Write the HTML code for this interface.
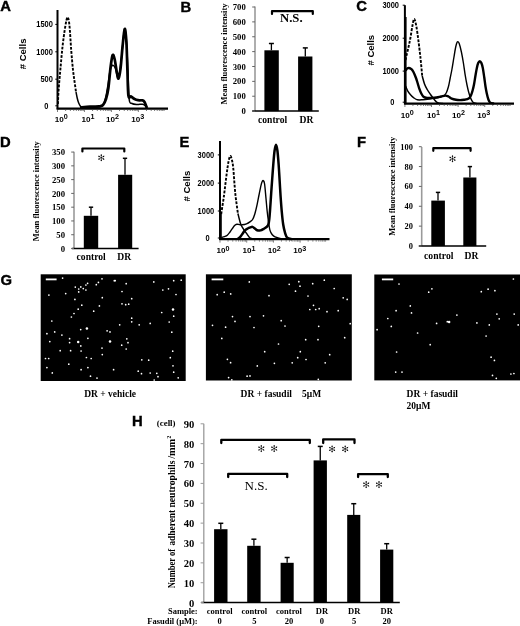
<!DOCTYPE html>
<html><head><meta charset="utf-8"><title>Figure</title>
<style>
html,body{margin:0;padding:0;background:#fff;}
body{width:520px;height:626px;overflow:hidden;font-family:"Liberation Sans", sans-serif;}
svg{display:block;will-change:transform;}
</style></head><body>
<svg width="520" height="626" viewBox="0 0 520 626">
<rect width="520" height="626" fill="#fff"/>
<text x="0.3" y="11.2" font-family='"Liberation Sans", sans-serif' font-size="14.8" font-weight="bold" text-anchor="start" stroke="#000" stroke-width="0.4">A</text>
<text x="180.5" y="11.8" font-family='"Liberation Sans", sans-serif' font-size="14.8" font-weight="bold" text-anchor="start" stroke="#000" stroke-width="0.4">B</text>
<text x="356.3" y="10.8" font-family='"Liberation Sans", sans-serif' font-size="14.8" font-weight="bold" text-anchor="start" stroke="#000" stroke-width="0.4">C</text>
<text x="-0.1" y="147.4" font-family='"Liberation Sans", sans-serif' font-size="14.8" font-weight="bold" text-anchor="start" stroke="#000" stroke-width="0.4">D</text>
<text x="179.4" y="147.4" font-family='"Liberation Sans", sans-serif' font-size="14.8" font-weight="bold" text-anchor="start" stroke="#000" stroke-width="0.4">E</text>
<text x="357.1" y="147" font-family='"Liberation Sans", sans-serif' font-size="14.8" font-weight="bold" text-anchor="start" stroke="#000" stroke-width="0.4">F</text>
<text x="0.4" y="284.8" font-family='"Liberation Sans", sans-serif' font-size="14.8" font-weight="bold" text-anchor="start" stroke="#000" stroke-width="0.4">G</text>
<text x="132" y="425.9" font-family='"Liberation Sans", sans-serif' font-size="14.8" font-weight="bold" text-anchor="start" stroke="#000" stroke-width="0.4">H</text>
<line x1="57.5" y1="10" x2="57.5" y2="109.4" stroke="#000" stroke-width="2.0" stroke-linecap="butt"/>
<line x1="56.7" y1="108.6" x2="168" y2="108.6" stroke="#000" stroke-width="2.2" stroke-linecap="butt"/>
<line x1="55.3" y1="24.4" x2="57.5" y2="24.4" stroke="#000" stroke-width="1" stroke-linecap="butt"/>
<text x="52.9" y="27.11" font-family='"Liberation Sans", sans-serif' font-size="8.2" font-weight="bold" text-anchor="end" textLength="16.6" lengthAdjust="spacingAndGlyphs">1500</text>
<line x1="55.3" y1="51.8" x2="57.5" y2="51.8" stroke="#000" stroke-width="1" stroke-linecap="butt"/>
<text x="52.9" y="54.51" font-family='"Liberation Sans", sans-serif' font-size="8.2" font-weight="bold" text-anchor="end" textLength="16.6" lengthAdjust="spacingAndGlyphs">1000</text>
<line x1="55.3" y1="79.2" x2="57.5" y2="79.2" stroke="#000" stroke-width="1" stroke-linecap="butt"/>
<text x="52.9" y="81.91" font-family='"Liberation Sans", sans-serif' font-size="8.2" font-weight="bold" text-anchor="end" textLength="12.45" lengthAdjust="spacingAndGlyphs">500</text>
<line x1="55.3" y1="105.8" x2="57.5" y2="105.8" stroke="#000" stroke-width="1" stroke-linecap="butt"/>
<text x="48.4" y="108.51" font-family='"Liberation Sans", sans-serif' font-size="8.2" font-weight="bold" text-anchor="end" textLength="4.15" lengthAdjust="spacingAndGlyphs">0</text>
<text x="54.8" y="121.6" font-family='"Liberation Sans", sans-serif' font-size="8.1" font-weight="bold">10<tspan font-size="7.2" dy="-2.8">0</tspan></text>
<text x="81.5" y="121.6" font-family='"Liberation Sans", sans-serif' font-size="8.1" font-weight="bold">10<tspan font-size="7.2" dy="-2.8">1</tspan></text>
<text x="106" y="121.6" font-family='"Liberation Sans", sans-serif' font-size="8.1" font-weight="bold">10<tspan font-size="7.2" dy="-2.8">2</tspan></text>
<text x="131.2" y="121.6" font-family='"Liberation Sans", sans-serif' font-size="8.1" font-weight="bold">10<tspan font-size="7.2" dy="-2.8">3</tspan></text>
<path d="M57.5 109.6v2.4M65.61 109.6v1.4M70.36 109.6v1.4M73.73 109.6v1.4M76.34 109.6v1.4M78.47 109.6v1.4M80.28 109.6v1.4M81.84 109.6v1.4M83.22 109.6v1.4M84.45 109.6v2.4M92.56 109.6v1.4M97.31 109.6v1.4M100.68 109.6v1.4M103.29 109.6v1.4M105.42 109.6v1.4M107.23 109.6v1.4M108.79 109.6v1.4M110.17 109.6v1.4M111.4 109.6v2.4M119.52 109.6v1.4M124.26 109.6v1.4M127.63 109.6v1.4M130.24 109.6v1.4M132.37 109.6v1.4M134.18 109.6v1.4M135.74 109.6v1.4M137.12 109.6v1.4M138.35 109.6v2.4M146.47 109.6v1.4M151.21 109.6v1.4M154.58 109.6v1.4M157.19 109.6v1.4M159.33 109.6v1.4M161.13 109.6v1.4M162.69 109.6v1.4M164.07 109.6v1.4" stroke="#444" stroke-width="0.7" fill="none"/>
<text x="0" y="0" transform="translate(26.32 53.9) rotate(-90)" font-family='"Liberation Sans", sans-serif' font-size="9.5" font-weight="bold" text-anchor="middle"># Cells</text>
<path d="M76 92 C76.2 93 76.77 96.2 77.2 98 C77.63 99.8 78.05 101.43 78.6 102.8 C79.15 104.17 79.77 105.4 80.5 106.2 C81.23 107 81.75 107.27 83 107.6 C84.25 107.93 87.17 108.1 88 108.2" fill="none" stroke="#000" stroke-width="1.5" stroke-linejoin="round"/>
<path d="M57.9 104 C58.02 101.67 58.17 96 58.6 90 C59.03 84 59.83 75.33 60.5 68 C61.17 60.67 61.82 52.83 62.6 46 C63.38 39.17 64.38 31.8 65.2 27 C66.02 22.2 66.8 17.53 67.5 17.2 C68.2 16.87 68.78 19.53 69.4 25 C70.02 30.47 70.6 42.5 71.2 50 C71.8 57.5 72.43 64.67 73 70 C73.57 75.33 74.1 78.33 74.6 82 C75.1 85.67 75.77 90.33 76 92" fill="none" stroke="#000" stroke-width="1.9" stroke-linejoin="round" stroke-dasharray="2.8 1.4"/>
<path d="M80 108 C82 107.9 88.67 107.6 92 107.4 C95.33 107.2 98.08 107.33 100 106.8 C101.92 106.27 102.53 105.83 103.5 104.2 C104.47 102.57 105.08 100.03 105.8 97 C106.52 93.97 107.07 90.5 107.8 86 C108.53 81.5 109.4 73.45 110.2 70 C111 66.55 111.77 65.63 112.6 65.3 C113.43 64.97 114.22 65.8 115.2 68 C116.18 70.2 117.5 79.83 118.5 78.5 C119.5 77.17 120.38 66.75 121.2 60 C122.02 53.25 122.82 43.17 123.4 38 C123.98 32.83 124.2 28.67 124.7 29 C125.2 29.33 125.87 33.17 126.4 40 C126.93 46.83 127.43 60.08 127.9 70 C128.37 79.92 128.52 93.92 129.2 99.5 C129.88 105.08 130.7 102.67 132 103.5 C133.3 104.33 135.25 104.38 137 104.5 C138.75 104.62 141.17 104.03 142.5 104.2 C143.83 104.37 144.25 104.82 145 105.5 C145.75 106.18 146.67 107.83 147 108.3" fill="none" stroke="#000" stroke-width="1.5" stroke-linejoin="round"/>
<path d="M80 107.6 C81.67 107.43 86.83 106.8 90 106.6 C93.17 106.4 96.83 106.67 99 106.4 C101.17 106.13 101.83 106.23 103 105 C104.17 103.77 105.1 101.83 106 99 C106.9 96.17 107.63 93.33 108.4 88 C109.17 82.67 109.9 72.47 110.6 67 C111.3 61.53 111.93 56.53 112.6 55.2 C113.27 53.87 113.9 56.2 114.6 59 C115.3 61.8 116.15 68.73 116.8 72 C117.45 75.27 117.87 79.27 118.5 78.6 C119.13 77.93 119.92 73.43 120.6 68 C121.28 62.57 121.92 52.53 122.6 46 C123.28 39.47 124.07 29.47 124.7 28.8 C125.33 28.13 125.95 35.13 126.4 42 C126.85 48.87 127.07 61.08 127.4 70 C127.73 78.92 127.8 91.08 128.4 95.5 C129 99.92 129.98 95.92 131 96.5 C132.02 97.08 133.33 98.38 134.5 99 C135.67 99.62 136.65 99.97 138 100.2 C139.35 100.43 141.52 100.1 142.6 100.4 C143.68 100.7 143.77 100.73 144.5 102 C145.23 103.27 146.58 107 147 108" fill="none" stroke="#000" stroke-width="2.7" stroke-linejoin="round"/>
<line x1="404.9" y1="5.2" x2="404.9" y2="104.4" stroke="#000" stroke-width="2.0" stroke-linecap="butt"/>
<line x1="404.1" y1="103.6" x2="514" y2="103.6" stroke="#000" stroke-width="2.2" stroke-linecap="butt"/>
<line x1="402.7" y1="5.2" x2="404.9" y2="5.2" stroke="#000" stroke-width="1" stroke-linecap="butt"/>
<text x="399" y="7.91" font-family='"Liberation Sans", sans-serif' font-size="8.2" font-weight="bold" text-anchor="end" textLength="16.6" lengthAdjust="spacingAndGlyphs">3000</text>
<line x1="402.7" y1="38.2" x2="404.9" y2="38.2" stroke="#000" stroke-width="1" stroke-linecap="butt"/>
<text x="399" y="40.91" font-family='"Liberation Sans", sans-serif' font-size="8.2" font-weight="bold" text-anchor="end" textLength="16.6" lengthAdjust="spacingAndGlyphs">2000</text>
<line x1="402.7" y1="71.1" x2="404.9" y2="71.1" stroke="#000" stroke-width="1" stroke-linecap="butt"/>
<text x="399" y="73.81" font-family='"Liberation Sans", sans-serif' font-size="8.2" font-weight="bold" text-anchor="end" textLength="16.6" lengthAdjust="spacingAndGlyphs">1000</text>
<line x1="402.7" y1="102.2" x2="404.9" y2="102.2" stroke="#000" stroke-width="1" stroke-linecap="butt"/>
<text x="394.5" y="104.91" font-family='"Liberation Sans", sans-serif' font-size="8.2" font-weight="bold" text-anchor="end" textLength="4.15" lengthAdjust="spacingAndGlyphs">0</text>
<text x="400.7" y="117.7" font-family='"Liberation Sans", sans-serif' font-size="8.1" font-weight="bold">10<tspan font-size="7.2" dy="-2.8">0</tspan></text>
<text x="427.1" y="117.7" font-family='"Liberation Sans", sans-serif' font-size="8.1" font-weight="bold">10<tspan font-size="7.2" dy="-2.8">1</tspan></text>
<text x="452.1" y="117.7" font-family='"Liberation Sans", sans-serif' font-size="8.1" font-weight="bold">10<tspan font-size="7.2" dy="-2.8">2</tspan></text>
<text x="477.3" y="117.7" font-family='"Liberation Sans", sans-serif' font-size="8.1" font-weight="bold">10<tspan font-size="7.2" dy="-2.8">3</tspan></text>
<path d="M404.9 104.6v2.4M412.91 104.6v1.4M417.6 104.6v1.4M420.92 104.6v1.4M423.5 104.6v1.4M425.61 104.6v1.4M427.39 104.6v1.4M428.93 104.6v1.4M430.29 104.6v1.4M431.51 104.6v2.4M439.52 104.6v1.4M444.21 104.6v1.4M447.53 104.6v1.4M450.11 104.6v1.4M452.22 104.6v1.4M454 104.6v1.4M455.54 104.6v1.4M456.9 104.6v1.4M458.12 104.6v2.4M466.13 104.6v1.4M470.82 104.6v1.4M474.14 104.6v1.4M476.72 104.6v1.4M478.83 104.6v1.4M480.61 104.6v1.4M482.15 104.6v1.4M483.51 104.6v1.4M484.73 104.6v2.4M492.74 104.6v1.4M497.43 104.6v1.4M500.75 104.6v1.4M503.33 104.6v1.4M505.44 104.6v1.4M507.22 104.6v1.4M508.76 104.6v1.4M510.12 104.6v1.4" stroke="#444" stroke-width="0.7" fill="none"/>
<text x="0" y="0" transform="translate(374.02 50.2) rotate(-90)" font-family='"Liberation Sans", sans-serif' font-size="9.5" font-weight="bold" text-anchor="middle"># Cells</text>
<line x1="405.6" y1="17" x2="405.6" y2="103" stroke="#000" stroke-width="2.0" stroke-linecap="butt"/>
<path d="M422.2 76 C422.58 77.33 423.67 81.75 424.5 84 C425.33 86.25 426.2 87.75 427.2 89.5 C428.2 91.25 429.32 92.83 430.5 94.5 C431.68 96.17 433.13 98.15 434.3 99.5 C435.47 100.85 436.05 101.93 437.5 102.6 C438.95 103.27 442.08 103.35 443 103.5" fill="none" stroke="#000" stroke-width="1.5" stroke-linejoin="round"/>
<path d="M405.6 60 C405.73 59.33 405.95 58 406.4 56 C406.85 54 407.65 50.92 408.3 48 C408.95 45.08 409.62 42.17 410.3 38.5 C410.98 34.83 411.75 29.27 412.4 26 C413.05 22.73 413.55 18.9 414.2 18.9 C414.85 18.9 415.63 22.65 416.3 26 C416.97 29.35 417.62 34.67 418.2 39 C418.78 43.33 419.35 48.17 419.8 52 C420.25 55.83 420.5 58 420.9 62 C421.3 66 421.98 73.67 422.2 76" fill="none" stroke="#000" stroke-width="1.9" stroke-linejoin="round" stroke-dasharray="2.8 1.4"/>
<path d="M405.6 86 C405.97 86.87 406.98 89.73 407.8 91.2 C408.62 92.67 409.55 93.73 410.5 94.8 C411.45 95.87 412.35 96.77 413.5 97.6 C414.65 98.43 415.82 99.45 417.4 99.8 C418.98 100.15 420.62 99.9 423 99.7 C425.38 99.5 429.2 98.92 431.7 98.6 C434.2 98.28 436.12 98.2 438 97.8 C439.88 97.4 441.63 97 443 96.2 C444.37 95.4 445.3 94.57 446.2 93 C447.1 91.43 447.73 89.3 448.4 86.8 C449.07 84.3 449.62 80.88 450.2 78 C450.78 75.12 451.3 72.83 451.9 69.5 C452.5 66.17 453.22 61.5 453.8 58 C454.38 54.5 454.93 50.92 455.4 48.5 C455.87 46.08 456.23 44.65 456.6 43.5 C456.97 42.35 457.17 41.6 457.6 41.6 C458.03 41.6 458.57 41.77 459.2 43.5 C459.83 45.23 460.7 48.75 461.4 52 C462.1 55.25 462.77 59.13 463.4 63 C464.03 66.87 464.6 71.53 465.2 75.2 C465.8 78.87 466.42 82.17 467 85 C467.58 87.83 468.1 90.03 468.7 92.2 C469.3 94.37 469.88 96.32 470.6 98 C471.32 99.68 471.93 101.37 473 102.3 C474.07 103.23 476.33 103.38 477 103.6" fill="none" stroke="#000" stroke-width="1.4" stroke-linejoin="round"/>
<path d="M405.6 70.5 C405.97 70.12 406.87 68.47 407.8 68.2 C408.73 67.93 410.3 68.35 411.2 68.9 C412.1 69.45 412.43 70.07 413.2 71.5 C413.97 72.93 415.07 75.58 415.8 77.5 C416.53 79.42 417.02 81.15 417.6 83 C418.18 84.85 418.68 86.85 419.3 88.6 C419.92 90.35 420.6 92.13 421.3 93.5 C422 94.87 422.55 96.05 423.5 96.8 C424.45 97.55 425.58 97.82 427 98 C428.42 98.18 430.42 98 432 97.9 C433.58 97.8 435 97.63 436.5 97.4 C438 97.17 439.5 96.8 441 96.5 C442.5 96.2 444.25 95.6 445.5 95.6 C446.75 95.6 447.47 96 448.5 96.5 C449.53 97 450.45 98.05 451.7 98.6 C452.95 99.15 454.6 99.55 456 99.8 C457.4 100.05 458.77 100.1 460.1 100.1 C461.43 100.1 462.78 99.95 464 99.8 C465.22 99.65 466.47 99.53 467.4 99.2 C468.33 98.87 468.97 98.53 469.6 97.8 C470.23 97.07 470.7 96.02 471.2 94.8 C471.7 93.58 472.13 92.22 472.6 90.5 C473.07 88.78 473.53 86.92 474 84.5 C474.47 82.08 474.93 78.72 475.4 76 C475.87 73.28 476.33 70.37 476.8 68.2 C477.27 66.03 477.7 64.17 478.2 63 C478.7 61.83 479.27 61.2 479.8 61.2 C480.33 61.2 480.9 61.87 481.4 63 C481.9 64.13 482.33 65.67 482.8 68 C483.27 70.33 483.75 73.92 484.2 77 C484.65 80.08 485.07 83.75 485.5 86.5 C485.93 89.25 486.32 91.33 486.8 93.5 C487.28 95.67 487.83 97.98 488.4 99.5 C488.97 101.02 489.27 101.93 490.2 102.6 C491.13 103.27 493.37 103.35 494 103.5" fill="none" stroke="#000" stroke-width="2.4" stroke-linejoin="round"/>
<line x1="220" y1="141.1" x2="220" y2="240" stroke="#000" stroke-width="2.0" stroke-linecap="butt"/>
<line x1="219.2" y1="239.2" x2="329.5" y2="239.2" stroke="#000" stroke-width="2.2" stroke-linecap="butt"/>
<line x1="217.8" y1="154.9" x2="220" y2="154.9" stroke="#000" stroke-width="1" stroke-linecap="butt"/>
<text x="214.2" y="157.61" font-family='"Liberation Sans", sans-serif' font-size="8.2" font-weight="bold" text-anchor="end" textLength="16.6" lengthAdjust="spacingAndGlyphs">3000</text>
<line x1="217.8" y1="183.1" x2="220" y2="183.1" stroke="#000" stroke-width="1" stroke-linecap="butt"/>
<text x="214.2" y="185.81" font-family='"Liberation Sans", sans-serif' font-size="8.2" font-weight="bold" text-anchor="end" textLength="16.6" lengthAdjust="spacingAndGlyphs">2000</text>
<line x1="217.8" y1="211" x2="220" y2="211" stroke="#000" stroke-width="1" stroke-linecap="butt"/>
<text x="214.2" y="213.71" font-family='"Liberation Sans", sans-serif' font-size="8.2" font-weight="bold" text-anchor="end" textLength="16.6" lengthAdjust="spacingAndGlyphs">1000</text>
<line x1="217.8" y1="238" x2="220" y2="238" stroke="#000" stroke-width="1" stroke-linecap="butt"/>
<text x="209.7" y="240.71" font-family='"Liberation Sans", sans-serif' font-size="8.2" font-weight="bold" text-anchor="end" textLength="4.15" lengthAdjust="spacingAndGlyphs">0</text>
<text x="216.4" y="253.4" font-family='"Liberation Sans", sans-serif' font-size="8.1" font-weight="bold">10<tspan font-size="7.2" dy="-2.8">0</tspan></text>
<text x="242.6" y="253.4" font-family='"Liberation Sans", sans-serif' font-size="8.1" font-weight="bold">10<tspan font-size="7.2" dy="-2.8">1</tspan></text>
<text x="267.7" y="253.4" font-family='"Liberation Sans", sans-serif' font-size="8.1" font-weight="bold">10<tspan font-size="7.2" dy="-2.8">2</tspan></text>
<text x="293.3" y="253.4" font-family='"Liberation Sans", sans-serif' font-size="8.1" font-weight="bold">10<tspan font-size="7.2" dy="-2.8">3</tspan></text>
<path d="M220 240.2v2.4M228.04 240.2v1.4M232.74 240.2v1.4M236.08 240.2v1.4M238.67 240.2v1.4M240.78 240.2v1.4M242.57 240.2v1.4M244.12 240.2v1.4M245.49 240.2v1.4M246.71 240.2v2.4M254.75 240.2v1.4M259.45 240.2v1.4M262.79 240.2v1.4M265.37 240.2v1.4M267.49 240.2v1.4M269.28 240.2v1.4M270.83 240.2v1.4M272.19 240.2v1.4M273.41 240.2v2.4M281.45 240.2v1.4M286.16 240.2v1.4M289.49 240.2v1.4M292.08 240.2v1.4M294.2 240.2v1.4M295.98 240.2v1.4M297.53 240.2v1.4M298.9 240.2v1.4M300.12 240.2v2.4M308.16 240.2v1.4M312.86 240.2v1.4M316.2 240.2v1.4M318.79 240.2v1.4M320.9 240.2v1.4M322.69 240.2v1.4M324.24 240.2v1.4M325.61 240.2v1.4" stroke="#444" stroke-width="0.7" fill="none"/>
<text x="0" y="0" transform="translate(190.42 186.1) rotate(-90)" font-family='"Liberation Sans", sans-serif' font-size="9.5" font-weight="bold" text-anchor="middle"># Cells</text>
<line x1="220.8" y1="213.5" x2="220.8" y2="239" stroke="#000" stroke-width="2.0" stroke-linecap="butt"/>
<path d="M237.9 213.5 C238.33 215.17 239.7 221.12 240.5 223.5 C241.3 225.88 241.7 226.15 242.7 227.8 C243.7 229.45 245.22 231.67 246.5 233.4 C247.78 235.13 248.82 237.25 250.4 238.2 C251.98 239.15 255.07 238.95 256 239.1" fill="none" stroke="#000" stroke-width="1.5" stroke-linejoin="round"/>
<path d="M221.2 214 C221.35 213 221.67 210.83 222.1 208 C222.53 205.17 223.07 202.47 223.8 197 C224.53 191.53 225.73 180.98 226.5 175.2 C227.27 169.42 227.78 165.5 228.4 162.3 C229.02 159.1 229.62 156.38 230.2 156 C230.78 155.62 231.38 157.9 231.9 160 C232.42 162.1 232.73 163.02 233.3 168.6 C233.87 174.18 234.53 186.02 235.3 193.5 C236.07 200.98 237.47 210.17 237.9 213.5" fill="none" stroke="#000" stroke-width="1.9" stroke-linejoin="round" stroke-dasharray="2.8 1.4"/>
<path d="M221.2 237.6 C221.75 237.43 223.48 237 224.5 236.6 C225.52 236.2 226.38 235.97 227.3 235.2 C228.22 234.43 229.17 233.1 230 232 C230.83 230.9 231.53 229.7 232.3 228.6 C233.07 227.5 233.83 226.13 234.6 225.4 C235.37 224.67 236.08 224.33 236.9 224.2 C237.72 224.07 238.62 224.5 239.5 224.6 C240.38 224.7 241.03 224.93 242.2 224.8 C243.37 224.67 245.15 224.33 246.5 223.8 C247.85 223.27 249.28 222.32 250.3 221.6 C251.32 220.88 251.85 220.77 252.6 219.5 C253.35 218.23 254.05 216.48 254.8 214 C255.55 211.52 256.4 207.77 257.1 204.6 C257.8 201.43 258.35 198.22 259 195 C259.65 191.78 260.47 187.55 261 185.3 C261.53 183.05 261.8 182.27 262.2 181.5 C262.6 180.73 263 180.28 263.4 180.7 C263.8 181.12 264.17 181.03 264.6 184 C265.03 186.97 265.57 193.92 266 198.5 C266.43 203.08 266.8 207.75 267.2 211.5 C267.6 215.25 267.93 217.85 268.4 221 C268.87 224.15 269.35 228.1 270 230.4 C270.65 232.7 271.47 233.73 272.3 234.8 C273.13 235.87 273.55 236.17 275 236.8 C276.45 237.43 278.17 238.2 281 238.6 C283.83 239 290.17 239.1 292 239.2" fill="none" stroke="#000" stroke-width="1.4" stroke-linejoin="round"/>
<path d="M237.5 239.2 C237.92 238.87 239.13 238.15 240 237.2 C240.87 236.25 241.87 234.65 242.7 233.5 C243.53 232.35 244.17 231.13 245 230.3 C245.83 229.47 246.8 228.98 247.7 228.5 C248.6 228.02 249.6 227.67 250.4 227.4 C251.2 227.13 251.77 226.73 252.5 226.9 C253.23 227.07 254.03 227.85 254.8 228.4 C255.57 228.95 256.15 229.87 257.1 230.2 C258.05 230.53 259.38 230.63 260.5 230.4 C261.62 230.17 262.8 229.37 263.8 228.8 C264.8 228.23 265.75 227.7 266.5 227 C267.25 226.3 267.83 225.93 268.3 224.6 C268.77 223.27 268.98 221.77 269.3 219 C269.62 216.23 269.88 212.33 270.2 208 C270.52 203.67 270.87 197.83 271.2 193 C271.53 188.17 271.83 184 272.2 179 C272.57 174 273 167.75 273.4 163 C273.8 158.25 274.17 153.53 274.6 150.5 C275.03 147.47 275.53 144.8 276 144.8 C276.47 144.8 276.97 147.3 277.4 150.5 C277.83 153.7 278.23 159.08 278.6 164 C278.97 168.92 279.27 174.58 279.6 180 C279.93 185.42 280.23 191.17 280.6 196.5 C280.97 201.83 281.37 207.33 281.8 212 C282.23 216.67 282.67 221.07 283.2 224.5 C283.73 227.93 284.33 230.42 285 232.6 C285.67 234.78 286.03 236.5 287.2 237.6 C288.37 238.7 291.2 238.93 292 239.2" fill="none" stroke="#000" stroke-width="2.5" stroke-linejoin="round"/>
<line x1="255" y1="6.5" x2="255" y2="111.1" stroke="#9a9a9a" stroke-width="1.6" stroke-linecap="butt"/>
<line x1="252.2" y1="111.1" x2="318.8" y2="111.1" stroke="#000" stroke-width="1.5" stroke-linecap="butt"/>
<line x1="252.2" y1="111.1" x2="255" y2="111.1" stroke="#666" stroke-width="1.0" stroke-linecap="butt"/>
<text x="245.8" y="114.23" font-family='"Liberation Serif", serif' font-size="8.7" font-weight="bold" text-anchor="end">0</text>
<line x1="252.2" y1="96.23" x2="255" y2="96.23" stroke="#666" stroke-width="1.0" stroke-linecap="butt"/>
<text x="245.8" y="99.36" font-family='"Liberation Serif", serif' font-size="8.7" font-weight="bold" text-anchor="end">100</text>
<line x1="252.2" y1="81.36" x2="255" y2="81.36" stroke="#666" stroke-width="1.0" stroke-linecap="butt"/>
<text x="245.8" y="84.49" font-family='"Liberation Serif", serif' font-size="8.7" font-weight="bold" text-anchor="end">200</text>
<line x1="252.2" y1="66.49" x2="255" y2="66.49" stroke="#666" stroke-width="1.0" stroke-linecap="butt"/>
<text x="245.8" y="69.62" font-family='"Liberation Serif", serif' font-size="8.7" font-weight="bold" text-anchor="end">300</text>
<line x1="252.2" y1="51.62" x2="255" y2="51.62" stroke="#666" stroke-width="1.0" stroke-linecap="butt"/>
<text x="245.8" y="54.75" font-family='"Liberation Serif", serif' font-size="8.7" font-weight="bold" text-anchor="end">400</text>
<line x1="252.2" y1="36.75" x2="255" y2="36.75" stroke="#666" stroke-width="1.0" stroke-linecap="butt"/>
<text x="245.8" y="39.88" font-family='"Liberation Serif", serif' font-size="8.7" font-weight="bold" text-anchor="end">500</text>
<line x1="252.2" y1="21.88" x2="255" y2="21.88" stroke="#666" stroke-width="1.0" stroke-linecap="butt"/>
<text x="245.8" y="25.01" font-family='"Liberation Serif", serif' font-size="8.7" font-weight="bold" text-anchor="end">600</text>
<line x1="252.2" y1="7.01" x2="255" y2="7.01" stroke="#666" stroke-width="1.0" stroke-linecap="butt"/>
<text x="245.8" y="10.14" font-family='"Liberation Serif", serif' font-size="8.7" font-weight="bold" text-anchor="end">700</text>
<rect x="264.4" y="50.3" width="14.4" height="60.8" fill="#000"/>
<rect x="298.1" y="56.5" width="14.3" height="54.6" fill="#000"/>
<line x1="271.4" y1="43.5" x2="271.4" y2="50.3" stroke="#000" stroke-width="1.3" stroke-linecap="butt"/>
<line x1="268.9" y1="43.5" x2="273.9" y2="43.5" stroke="#000" stroke-width="1.5" stroke-linecap="butt"/>
<line x1="305.3" y1="47.9" x2="305.3" y2="56.5" stroke="#000" stroke-width="1.3" stroke-linecap="butt"/>
<line x1="302.8" y1="47.9" x2="307.8" y2="47.9" stroke="#000" stroke-width="1.5" stroke-linecap="butt"/>
<path d="M272 14 L272 11.1 L312.8 11.1 L312.8 14" fill="none" stroke="#000" stroke-width="2.2" stroke-linejoin="round" stroke-linecap="round"/>
<text x="280" y="22.1" font-family='"Liberation Serif", serif' font-size="12.7" font-weight="bold" text-anchor="start">N.S.</text>
<text x="258" y="123.2" font-family='"Liberation Serif", serif' font-size="9.6" font-weight="bold" text-anchor="start">control</text>
<text x="299.6" y="123.2" font-family='"Liberation Serif", serif' font-size="9.6" font-weight="bold" text-anchor="start">DR</text>
<text x="0" y="0" transform="translate(227.31 54) rotate(-90)" font-family='"Liberation Serif", serif' font-size="9.2" font-weight="bold" text-anchor="middle" textLength="101" lengthAdjust="spacingAndGlyphs">Mean fluorescence intensity</text>
<line x1="74" y1="151.7" x2="74" y2="248.5" stroke="#9a9a9a" stroke-width="1.6" stroke-linecap="butt"/>
<line x1="71.8" y1="248.5" x2="138.6" y2="248.5" stroke="#000" stroke-width="1.5" stroke-linecap="butt"/>
<line x1="71.2" y1="248.5" x2="74" y2="248.5" stroke="#666" stroke-width="1.0" stroke-linecap="butt"/>
<text x="65" y="251.63" font-family='"Liberation Serif", serif' font-size="8.7" font-weight="bold" text-anchor="end">0</text>
<line x1="71.2" y1="234.72" x2="74" y2="234.72" stroke="#666" stroke-width="1.0" stroke-linecap="butt"/>
<text x="65" y="237.86" font-family='"Liberation Serif", serif' font-size="8.7" font-weight="bold" text-anchor="end">50</text>
<line x1="71.2" y1="220.95" x2="74" y2="220.95" stroke="#666" stroke-width="1.0" stroke-linecap="butt"/>
<text x="65" y="224.08" font-family='"Liberation Serif", serif' font-size="8.7" font-weight="bold" text-anchor="end">100</text>
<line x1="71.2" y1="207.18" x2="74" y2="207.18" stroke="#666" stroke-width="1.0" stroke-linecap="butt"/>
<text x="65" y="210.31" font-family='"Liberation Serif", serif' font-size="8.7" font-weight="bold" text-anchor="end">150</text>
<line x1="71.2" y1="193.4" x2="74" y2="193.4" stroke="#666" stroke-width="1.0" stroke-linecap="butt"/>
<text x="65" y="196.53" font-family='"Liberation Serif", serif' font-size="8.7" font-weight="bold" text-anchor="end">200</text>
<line x1="71.2" y1="179.62" x2="74" y2="179.62" stroke="#666" stroke-width="1.0" stroke-linecap="butt"/>
<text x="65" y="182.76" font-family='"Liberation Serif", serif' font-size="8.7" font-weight="bold" text-anchor="end">250</text>
<line x1="71.2" y1="165.85" x2="74" y2="165.85" stroke="#666" stroke-width="1.0" stroke-linecap="butt"/>
<text x="65" y="168.98" font-family='"Liberation Serif", serif' font-size="8.7" font-weight="bold" text-anchor="end">300</text>
<line x1="71.2" y1="152.07" x2="74" y2="152.07" stroke="#666" stroke-width="1.0" stroke-linecap="butt"/>
<text x="65" y="155.21" font-family='"Liberation Serif", serif' font-size="8.7" font-weight="bold" text-anchor="end">350</text>
<rect x="83.8" y="215.8" width="14.4" height="32.7" fill="#000"/>
<rect x="118.1" y="174.8" width="14.1" height="73.7" fill="#000"/>
<line x1="91" y1="207.2" x2="91" y2="215.8" stroke="#000" stroke-width="1.3" stroke-linecap="butt"/>
<line x1="88.85" y1="207.2" x2="93.15" y2="207.2" stroke="#000" stroke-width="1.5" stroke-linecap="butt"/>
<line x1="125" y1="158.3" x2="125" y2="174.8" stroke="#000" stroke-width="1.3" stroke-linecap="butt"/>
<line x1="122.85" y1="158.3" x2="127.15" y2="158.3" stroke="#000" stroke-width="1.5" stroke-linecap="butt"/>
<path d="M82.4 151.4 L82.4 148.5 L124.3 148.5 L124.3 151.4" fill="none" stroke="#000" stroke-width="2.2" stroke-linejoin="round" stroke-linecap="round"/>
<path d="M101.3 157.7L103.98 159.25M101.3 157.7L101.3 160.8M101.3 157.7L98.62 159.25M101.3 157.7L98.62 156.15M101.3 157.7L101.3 154.6M101.3 157.7L103.98 156.15" stroke="#000" stroke-width="0.5" stroke-linecap="round" fill="none"/><circle cx="103.5" cy="158.97" r="0.72"/><circle cx="101.3" cy="160.24" r="0.72"/><circle cx="99.1" cy="158.97" r="0.72"/><circle cx="99.1" cy="156.43" r="0.72"/><circle cx="101.3" cy="155.16" r="0.72"/><circle cx="103.5" cy="156.43" r="0.72"/>
<text x="76.6" y="259.8" font-family='"Liberation Serif", serif' font-size="9.6" font-weight="bold" text-anchor="start">control</text>
<text x="117.3" y="259.8" font-family='"Liberation Serif", serif' font-size="9.6" font-weight="bold" text-anchor="start">DR</text>
<text x="0" y="0" transform="translate(39.31 191.3) rotate(-90)" font-family='"Liberation Serif", serif' font-size="9.2" font-weight="bold" text-anchor="middle" textLength="100" lengthAdjust="spacingAndGlyphs">Mean fluorescence intensity</text>
<line x1="421.7" y1="147" x2="421.7" y2="246" stroke="#9a9a9a" stroke-width="1.6" stroke-linecap="butt"/>
<line x1="418.8" y1="246" x2="486.2" y2="246" stroke="#000" stroke-width="1.5" stroke-linecap="butt"/>
<line x1="418.9" y1="246" x2="421.7" y2="246" stroke="#666" stroke-width="1.0" stroke-linecap="butt"/>
<text x="412.9" y="249.02" font-family='"Liberation Serif", serif' font-size="8.4" font-weight="bold" text-anchor="end">0</text>
<line x1="418.9" y1="226.14" x2="421.7" y2="226.14" stroke="#666" stroke-width="1.0" stroke-linecap="butt"/>
<text x="412.9" y="229.16" font-family='"Liberation Serif", serif' font-size="8.4" font-weight="bold" text-anchor="end">20</text>
<line x1="418.9" y1="206.28" x2="421.7" y2="206.28" stroke="#666" stroke-width="1.0" stroke-linecap="butt"/>
<text x="412.9" y="209.3" font-family='"Liberation Serif", serif' font-size="8.4" font-weight="bold" text-anchor="end">40</text>
<line x1="418.9" y1="186.42" x2="421.7" y2="186.42" stroke="#666" stroke-width="1.0" stroke-linecap="butt"/>
<text x="412.9" y="189.44" font-family='"Liberation Serif", serif' font-size="8.4" font-weight="bold" text-anchor="end">60</text>
<line x1="418.9" y1="166.56" x2="421.7" y2="166.56" stroke="#666" stroke-width="1.0" stroke-linecap="butt"/>
<text x="412.9" y="169.58" font-family='"Liberation Serif", serif' font-size="8.4" font-weight="bold" text-anchor="end">80</text>
<line x1="418.9" y1="146.7" x2="421.7" y2="146.7" stroke="#666" stroke-width="1.0" stroke-linecap="butt"/>
<text x="412.9" y="149.72" font-family='"Liberation Serif", serif' font-size="8.4" font-weight="bold" text-anchor="end">100</text>
<rect x="431.3" y="200.6" width="13.6" height="45.4" fill="#000"/>
<rect x="463.3" y="177.5" width="13.1" height="68.5" fill="#000"/>
<line x1="438" y1="192.4" x2="438" y2="200.6" stroke="#000" stroke-width="1.3" stroke-linecap="butt"/>
<line x1="435.85" y1="192.4" x2="440.15" y2="192.4" stroke="#000" stroke-width="1.5" stroke-linecap="butt"/>
<line x1="469.9" y1="166.6" x2="469.9" y2="177.5" stroke="#000" stroke-width="1.3" stroke-linecap="butt"/>
<line x1="467.75" y1="166.6" x2="472.05" y2="166.6" stroke="#000" stroke-width="1.5" stroke-linecap="butt"/>
<path d="M433.3 150.8 L433.3 148.2 L470.6 148.2 L470.6 150.8" fill="none" stroke="#000" stroke-width="2.2" stroke-linejoin="round" stroke-linecap="round"/>
<path d="M452.5 158.8L455.18 160.35M452.5 158.8L452.5 161.9M452.5 158.8L449.82 160.35M452.5 158.8L449.82 157.25M452.5 158.8L452.5 155.7M452.5 158.8L455.18 157.25" stroke="#000" stroke-width="0.5" stroke-linecap="round" fill="none"/><circle cx="454.7" cy="160.07" r="0.72"/><circle cx="452.5" cy="161.34" r="0.72"/><circle cx="450.3" cy="160.07" r="0.72"/><circle cx="450.3" cy="157.53" r="0.72"/><circle cx="452.5" cy="156.26" r="0.72"/><circle cx="454.7" cy="157.53" r="0.72"/>
<text x="424" y="259.2" font-family='"Liberation Serif", serif' font-size="9.7" font-weight="bold" text-anchor="start">control</text>
<text x="464.6" y="259.3" font-family='"Liberation Serif", serif' font-size="9.6" font-weight="bold" text-anchor="start">DR</text>
<text x="0" y="0" transform="translate(395.31 186.3) rotate(-90)" font-family='"Liberation Serif", serif' font-size="9.2" font-weight="bold" text-anchor="middle" textLength="99" lengthAdjust="spacingAndGlyphs">Mean fluorescence intensity</text>
<rect x="40.7" y="274.3" width="145" height="106.7" fill="#000"/>
<rect x="205.9" y="274.3" width="145.9" height="106.2" fill="#000"/>
<rect x="374.3" y="274.5" width="146.2" height="105.9" fill="#000"/>
<line x1="45.8" y1="279.4" x2="56.6" y2="279.4" stroke="#fff" stroke-width="1.8" stroke-linecap="butt"/>
<line x1="211.6" y1="279.4" x2="223.3" y2="279.4" stroke="#fff" stroke-width="1.8" stroke-linecap="butt"/>
<line x1="381.9" y1="279.4" x2="393.2" y2="279.4" stroke="#fff" stroke-width="1.8" stroke-linecap="butt"/>
<circle cx="62.6" cy="278.1" r="0.85" fill="#fff"/>
<circle cx="102" cy="278.8" r="0.85" fill="#fff"/>
<circle cx="75.3" cy="287.1" r="0.85" fill="#fff"/>
<circle cx="78.7" cy="289" r="0.85" fill="#fff"/>
<circle cx="80.8" cy="286.9" r="0.85" fill="#fff"/>
<circle cx="83.3" cy="288.6" r="0.85" fill="#fff"/>
<circle cx="85.9" cy="290" r="0.85" fill="#fff"/>
<circle cx="85.9" cy="285" r="0.85" fill="#fff"/>
<circle cx="87.6" cy="283.3" r="0.85" fill="#fff"/>
<circle cx="96.3" cy="284.7" r="0.85" fill="#fff"/>
<circle cx="98.4" cy="282.4" r="0.85" fill="#fff"/>
<circle cx="78.7" cy="291.9" r="0.85" fill="#fff"/>
<circle cx="65.7" cy="293.6" r="0.85" fill="#fff"/>
<circle cx="48.9" cy="295.1" r="0.85" fill="#fff"/>
<circle cx="74.9" cy="299.4" r="0.85" fill="#fff"/>
<circle cx="102.3" cy="297.7" r="0.85" fill="#fff"/>
<circle cx="81.8" cy="305.2" r="0.85" fill="#fff"/>
<circle cx="99.4" cy="305.9" r="0.85" fill="#fff"/>
<circle cx="78.2" cy="309.2" r="0.85" fill="#fff"/>
<circle cx="93.7" cy="311.2" r="0.85" fill="#fff"/>
<circle cx="74" cy="313.5" r="0.85" fill="#fff"/>
<circle cx="71.4" cy="317" r="0.85" fill="#fff"/>
<circle cx="51.8" cy="321" r="0.85" fill="#fff"/>
<circle cx="86.9" cy="328.5" r="1.25" fill="#fff"/>
<circle cx="114.3" cy="280.7" r="0.85" fill="#fff"/>
<circle cx="115.2" cy="280.7" r="0.85" fill="#fff"/>
<circle cx="126.2" cy="283.7" r="0.85" fill="#fff"/>
<circle cx="153.8" cy="281.9" r="0.85" fill="#fff"/>
<circle cx="173.7" cy="280.7" r="0.85" fill="#fff"/>
<circle cx="181.2" cy="280.2" r="0.85" fill="#fff"/>
<circle cx="122" cy="291.5" r="0.85" fill="#fff"/>
<circle cx="162.8" cy="290" r="0.85" fill="#fff"/>
<circle cx="168.5" cy="288.8" r="0.85" fill="#fff"/>
<circle cx="176" cy="294.5" r="0.85" fill="#fff"/>
<circle cx="131.7" cy="298.7" r="0.85" fill="#fff"/>
<circle cx="122" cy="303.8" r="0.85" fill="#fff"/>
<circle cx="125.7" cy="304.7" r="0.85" fill="#fff"/>
<circle cx="128.7" cy="304.2" r="0.85" fill="#fff"/>
<circle cx="173" cy="309.5" r="1.25" fill="#fff"/>
<circle cx="161.7" cy="312.5" r="0.85" fill="#fff"/>
<circle cx="173.7" cy="316.2" r="0.85" fill="#fff"/>
<circle cx="131.7" cy="318.2" r="0.85" fill="#fff"/>
<circle cx="131.7" cy="321.8" r="0.85" fill="#fff"/>
<circle cx="169.2" cy="322" r="0.85" fill="#fff"/>
<circle cx="119.7" cy="324.8" r="0.85" fill="#fff"/>
<circle cx="139.2" cy="324.8" r="0.85" fill="#fff"/>
<circle cx="150.2" cy="323.4" r="0.85" fill="#fff"/>
<circle cx="80.7" cy="329.6" r="0.85" fill="#fff"/>
<circle cx="46.9" cy="333.7" r="0.85" fill="#fff"/>
<circle cx="54.7" cy="331.9" r="0.85" fill="#fff"/>
<circle cx="61.9" cy="335.1" r="0.85" fill="#fff"/>
<circle cx="107.1" cy="330.8" r="0.85" fill="#fff"/>
<circle cx="110" cy="331.9" r="0.85" fill="#fff"/>
<circle cx="49.8" cy="341.6" r="0.85" fill="#fff"/>
<circle cx="69.6" cy="338.7" r="0.85" fill="#fff"/>
<circle cx="69.6" cy="342.6" r="0.85" fill="#fff"/>
<circle cx="78.2" cy="342" r="1.25" fill="#fff"/>
<circle cx="87.9" cy="338.3" r="0.85" fill="#fff"/>
<circle cx="110" cy="341.6" r="1.25" fill="#fff"/>
<circle cx="80.8" cy="345.9" r="0.85" fill="#fff"/>
<circle cx="60.2" cy="350.7" r="0.85" fill="#fff"/>
<circle cx="70.6" cy="350.7" r="0.85" fill="#fff"/>
<circle cx="81.1" cy="351" r="0.85" fill="#fff"/>
<circle cx="102" cy="348.1" r="0.85" fill="#fff"/>
<circle cx="102.3" cy="354.6" r="0.85" fill="#fff"/>
<circle cx="45.5" cy="358.5" r="0.85" fill="#fff"/>
<circle cx="48.7" cy="358.5" r="0.85" fill="#fff"/>
<circle cx="86.4" cy="357.5" r="0.85" fill="#fff"/>
<circle cx="91.2" cy="358.5" r="0.85" fill="#fff"/>
<circle cx="68.8" cy="364.2" r="0.85" fill="#fff"/>
<circle cx="46.9" cy="367.6" r="0.85" fill="#fff"/>
<circle cx="87.9" cy="367.6" r="0.85" fill="#fff"/>
<circle cx="81.1" cy="369.7" r="0.85" fill="#fff"/>
<circle cx="113.6" cy="369.7" r="0.85" fill="#fff"/>
<circle cx="52.3" cy="372.9" r="0.85" fill="#fff"/>
<circle cx="90.5" cy="376.2" r="0.85" fill="#fff"/>
<circle cx="97" cy="378.1" r="0.85" fill="#fff"/>
<circle cx="171.8" cy="332.2" r="0.85" fill="#fff"/>
<circle cx="126.8" cy="338.8" r="0.85" fill="#fff"/>
<circle cx="128" cy="342.7" r="0.85" fill="#fff"/>
<circle cx="121.7" cy="345.2" r="0.85" fill="#fff"/>
<circle cx="126.2" cy="349" r="0.85" fill="#fff"/>
<circle cx="172.7" cy="351.2" r="0.85" fill="#fff"/>
<circle cx="170.3" cy="357.7" r="0.85" fill="#fff"/>
<circle cx="141.8" cy="359.8" r="0.85" fill="#fff"/>
<circle cx="148.7" cy="360.2" r="0.85" fill="#fff"/>
<circle cx="173" cy="365.8" r="0.85" fill="#fff"/>
<circle cx="138.2" cy="371.2" r="0.85" fill="#fff"/>
<circle cx="141.5" cy="373.7" r="0.85" fill="#fff"/>
<circle cx="150.2" cy="373" r="0.85" fill="#fff"/>
<circle cx="156.8" cy="373.3" r="0.85" fill="#fff"/>
<circle cx="158" cy="376.7" r="0.85" fill="#fff"/>
<circle cx="173.7" cy="372.2" r="0.85" fill="#fff"/>
<circle cx="154.2" cy="380" r="0.85" fill="#fff"/>
<circle cx="178.2" cy="377.8" r="0.85" fill="#fff"/>
<circle cx="249.3" cy="281.9" r="0.85" fill="#fff"/>
<circle cx="224.2" cy="292.2" r="0.85" fill="#fff"/>
<circle cx="217.2" cy="294.7" r="0.85" fill="#fff"/>
<circle cx="230.7" cy="293.9" r="0.85" fill="#fff"/>
<circle cx="269" cy="295.7" r="0.85" fill="#fff"/>
<circle cx="232.5" cy="316.6" r="0.85" fill="#fff"/>
<circle cx="235" cy="321.4" r="0.85" fill="#fff"/>
<circle cx="250" cy="316.6" r="0.85" fill="#fff"/>
<circle cx="263.5" cy="315.8" r="0.85" fill="#fff"/>
<circle cx="212.5" cy="325.3" r="0.85" fill="#fff"/>
<circle cx="225.6" cy="327.2" r="0.85" fill="#fff"/>
<circle cx="254" cy="327.5" r="0.85" fill="#fff"/>
<circle cx="298.8" cy="281.7" r="0.85" fill="#fff"/>
<circle cx="289.2" cy="284.3" r="0.85" fill="#fff"/>
<circle cx="300" cy="286.2" r="0.85" fill="#fff"/>
<circle cx="312.7" cy="283.7" r="0.85" fill="#fff"/>
<circle cx="324.3" cy="280.2" r="0.85" fill="#fff"/>
<circle cx="295.5" cy="291.2" r="0.85" fill="#fff"/>
<circle cx="334.2" cy="288.5" r="0.85" fill="#fff"/>
<circle cx="308" cy="296" r="0.85" fill="#fff"/>
<circle cx="343.2" cy="297.8" r="0.85" fill="#fff"/>
<circle cx="347.2" cy="299.4" r="0.85" fill="#fff"/>
<circle cx="313.5" cy="305.3" r="0.85" fill="#fff"/>
<circle cx="309.8" cy="309.5" r="0.85" fill="#fff"/>
<circle cx="315.7" cy="309.5" r="0.85" fill="#fff"/>
<circle cx="319.2" cy="308.7" r="0.85" fill="#fff"/>
<circle cx="327" cy="311.7" r="0.85" fill="#fff"/>
<circle cx="338.2" cy="310.7" r="0.85" fill="#fff"/>
<circle cx="281.2" cy="320.7" r="0.85" fill="#fff"/>
<circle cx="285" cy="326" r="0.85" fill="#fff"/>
<circle cx="318.7" cy="326.3" r="0.85" fill="#fff"/>
<circle cx="350.2" cy="323.7" r="0.85" fill="#fff"/>
<circle cx="221.8" cy="338.4" r="0.85" fill="#fff"/>
<circle cx="278.5" cy="344" r="0.85" fill="#fff"/>
<circle cx="264.7" cy="351.7" r="0.85" fill="#fff"/>
<circle cx="227.4" cy="359.3" r="0.85" fill="#fff"/>
<circle cx="230.6" cy="362.7" r="0.85" fill="#fff"/>
<circle cx="274.4" cy="363.3" r="0.85" fill="#fff"/>
<circle cx="257.3" cy="365.9" r="0.85" fill="#fff"/>
<circle cx="228.6" cy="377.6" r="0.85" fill="#fff"/>
<circle cx="247.1" cy="376.2" r="0.85" fill="#fff"/>
<circle cx="250" cy="375.9" r="0.85" fill="#fff"/>
<circle cx="231.8" cy="379.8" r="0.85" fill="#fff"/>
<circle cx="305.7" cy="339.7" r="0.85" fill="#fff"/>
<circle cx="318" cy="339.7" r="0.85" fill="#fff"/>
<circle cx="344.7" cy="337.7" r="0.85" fill="#fff"/>
<circle cx="300.3" cy="351.7" r="0.85" fill="#fff"/>
<circle cx="297.7" cy="357.7" r="0.85" fill="#fff"/>
<circle cx="306" cy="359.5" r="0.85" fill="#fff"/>
<circle cx="292.2" cy="362.8" r="0.85" fill="#fff"/>
<circle cx="329.7" cy="354.7" r="0.85" fill="#fff"/>
<circle cx="325.2" cy="362.8" r="0.85" fill="#fff"/>
<circle cx="318.3" cy="379.3" r="0.85" fill="#fff"/>
<circle cx="399" cy="284" r="0.85" fill="#fff"/>
<circle cx="431.9" cy="288.8" r="0.85" fill="#fff"/>
<circle cx="428.7" cy="292.2" r="0.85" fill="#fff"/>
<circle cx="410.3" cy="305.9" r="0.85" fill="#fff"/>
<circle cx="396.1" cy="310.7" r="0.85" fill="#fff"/>
<circle cx="411.5" cy="312.9" r="0.85" fill="#fff"/>
<circle cx="387.8" cy="318.5" r="0.85" fill="#fff"/>
<circle cx="391.3" cy="326.4" r="0.85" fill="#fff"/>
<circle cx="436.6" cy="323.4" r="0.85" fill="#fff"/>
<circle cx="447.3" cy="321.7" r="0.85" fill="#fff"/>
<circle cx="513.4" cy="279" r="0.85" fill="#fff"/>
<circle cx="481.3" cy="291.7" r="0.85" fill="#fff"/>
<circle cx="488.1" cy="289.2" r="0.85" fill="#fff"/>
<circle cx="494.9" cy="290.7" r="0.85" fill="#fff"/>
<circle cx="456.9" cy="315.1" r="0.85" fill="#fff"/>
<circle cx="496.9" cy="314.1" r="0.85" fill="#fff"/>
<circle cx="499.2" cy="318.8" r="0.85" fill="#fff"/>
<circle cx="514.2" cy="314.1" r="0.85" fill="#fff"/>
<circle cx="449.1" cy="322" r="1.25" fill="#fff"/>
<circle cx="476.9" cy="322.9" r="0.85" fill="#fff"/>
<circle cx="489.3" cy="324.9" r="0.85" fill="#fff"/>
<circle cx="518.2" cy="324.9" r="0.85" fill="#fff"/>
<circle cx="377.1" cy="329.7" r="0.85" fill="#fff"/>
<circle cx="417.6" cy="333" r="0.85" fill="#fff"/>
<circle cx="430.2" cy="344.7" r="0.85" fill="#fff"/>
<circle cx="396.6" cy="352" r="0.85" fill="#fff"/>
<circle cx="395.7" cy="372.1" r="0.85" fill="#fff"/>
<circle cx="402" cy="372.1" r="0.85" fill="#fff"/>
<circle cx="486.1" cy="336" r="0.85" fill="#fff"/>
<circle cx="491.1" cy="357.2" r="0.85" fill="#fff"/>
<circle cx="494.4" cy="360.4" r="0.85" fill="#fff"/>
<circle cx="492.5" cy="375.4" r="0.85" fill="#fff"/>
<circle cx="496.3" cy="378.3" r="0.85" fill="#fff"/>
<circle cx="510.9" cy="374" r="0.85" fill="#fff"/>
<circle cx="513.9" cy="373.5" r="0.85" fill="#fff"/>
<text x="84.2" y="396.8" font-family='"Liberation Serif", serif' font-size="9.5" font-weight="bold" text-anchor="start">DR + vehicle</text>
<text x="240.6" y="396.9" font-family='"Liberation Serif", serif' font-size="9.5" font-weight="bold" text-anchor="start">DR + fasudil</text>
<text x="302.1" y="396.9" font-family='"Liberation Serif", serif' font-size="9.5" font-weight="bold" text-anchor="start">5μM</text>
<text x="406.6" y="396.6" font-family='"Liberation Serif", serif' font-size="9.5" font-weight="bold" text-anchor="start">DR + fasudil</text>
<text x="406.6" y="408.5" font-family='"Liberation Serif", serif' font-size="9.5" font-weight="bold" text-anchor="start">20μM</text>
<line x1="203.8" y1="423.7" x2="203.8" y2="602.6" stroke="#9a9a9a" stroke-width="1.3" stroke-linecap="butt"/>
<line x1="201.2" y1="602.6" x2="399.8" y2="602.6" stroke="#000" stroke-width="1.5" stroke-linecap="butt"/>
<line x1="200.6" y1="602.6" x2="203.8" y2="602.6" stroke="#9a9a9a" stroke-width="1.0" stroke-linecap="butt"/>
<text x="194.4" y="606.6" font-family='"Liberation Serif", serif' font-size="10.6" font-weight="bold" text-anchor="end">0</text>
<line x1="200.6" y1="582.73" x2="203.8" y2="582.73" stroke="#9a9a9a" stroke-width="1.0" stroke-linecap="butt"/>
<text x="194.4" y="586.73" font-family='"Liberation Serif", serif' font-size="10.6" font-weight="bold" text-anchor="end">10</text>
<line x1="200.6" y1="562.87" x2="203.8" y2="562.87" stroke="#9a9a9a" stroke-width="1.0" stroke-linecap="butt"/>
<text x="194.4" y="566.87" font-family='"Liberation Serif", serif' font-size="10.6" font-weight="bold" text-anchor="end">20</text>
<line x1="200.6" y1="543" x2="203.8" y2="543" stroke="#9a9a9a" stroke-width="1.0" stroke-linecap="butt"/>
<text x="194.4" y="547" font-family='"Liberation Serif", serif' font-size="10.6" font-weight="bold" text-anchor="end">30</text>
<line x1="200.6" y1="523.14" x2="203.8" y2="523.14" stroke="#9a9a9a" stroke-width="1.0" stroke-linecap="butt"/>
<text x="194.4" y="527.14" font-family='"Liberation Serif", serif' font-size="10.6" font-weight="bold" text-anchor="end">40</text>
<line x1="200.6" y1="503.27" x2="203.8" y2="503.27" stroke="#9a9a9a" stroke-width="1.0" stroke-linecap="butt"/>
<text x="194.4" y="507.27" font-family='"Liberation Serif", serif' font-size="10.6" font-weight="bold" text-anchor="end">50</text>
<line x1="200.6" y1="483.4" x2="203.8" y2="483.4" stroke="#9a9a9a" stroke-width="1.0" stroke-linecap="butt"/>
<text x="194.4" y="487.4" font-family='"Liberation Serif", serif' font-size="10.6" font-weight="bold" text-anchor="end">60</text>
<line x1="200.6" y1="463.54" x2="203.8" y2="463.54" stroke="#9a9a9a" stroke-width="1.0" stroke-linecap="butt"/>
<text x="194.4" y="467.54" font-family='"Liberation Serif", serif' font-size="10.6" font-weight="bold" text-anchor="end">70</text>
<line x1="200.6" y1="443.67" x2="203.8" y2="443.67" stroke="#9a9a9a" stroke-width="1.0" stroke-linecap="butt"/>
<text x="194.4" y="447.67" font-family='"Liberation Serif", serif' font-size="10.6" font-weight="bold" text-anchor="end">80</text>
<line x1="200.6" y1="423.81" x2="203.8" y2="423.81" stroke="#9a9a9a" stroke-width="1.0" stroke-linecap="butt"/>
<text x="194.4" y="427.81" font-family='"Liberation Serif", serif' font-size="10.6" font-weight="bold" text-anchor="end">90</text>
<text x="156.8" y="425.9" font-family='"Liberation Serif", serif' font-size="8.9" font-weight="bold" text-anchor="start">(cell)</text>
<text x="0" y="0" transform="translate(174.68 588.3) rotate(-90)" font-family='"Liberation Serif", serif' font-size="9.4" font-weight="bold" textLength="39.5" lengthAdjust="spacingAndGlyphs">Number of</text>
<text x="0" y="0" transform="translate(174.68 545.6) rotate(-90)" font-family='"Liberation Serif", serif' font-size="9.4" font-weight="bold" textLength="35.8" lengthAdjust="spacingAndGlyphs">adherent</text>
<text x="0" y="0" transform="translate(174.68 507.6) rotate(-90)" font-family='"Liberation Serif", serif' font-size="9.4" font-weight="bold" textLength="47" lengthAdjust="spacingAndGlyphs">neutrophils</text>
<text x="0" y="0" transform="translate(174.68 458.8) rotate(-90)" font-family='"Liberation Serif", serif' font-size="9.4" font-weight="bold" textLength="20" lengthAdjust="spacingAndGlyphs">/mm</text>
<text x="0" y="0" transform="translate(171.28 438.6) rotate(-90)" font-family='"Liberation Serif", serif' font-size="5.6" font-weight="bold">2</text>
<rect x="214.1" y="529.2" width="13.4" height="73.4" fill="#000"/>
<line x1="220.8" y1="523.3" x2="220.8" y2="529.2" stroke="#000" stroke-width="1.3" stroke-linecap="butt"/>
<line x1="218.3" y1="523.3" x2="223.3" y2="523.3" stroke="#000" stroke-width="1.5" stroke-linecap="butt"/>
<rect x="247.2" y="545.8" width="13.4" height="56.8" fill="#000"/>
<line x1="253.9" y1="539.2" x2="253.9" y2="545.8" stroke="#000" stroke-width="1.3" stroke-linecap="butt"/>
<line x1="251.4" y1="539.2" x2="256.4" y2="539.2" stroke="#000" stroke-width="1.5" stroke-linecap="butt"/>
<rect x="280.6" y="562.8" width="13.1" height="39.8" fill="#000"/>
<line x1="287.15" y1="557.5" x2="287.15" y2="562.8" stroke="#000" stroke-width="1.3" stroke-linecap="butt"/>
<line x1="284.65" y1="557.5" x2="289.65" y2="557.5" stroke="#000" stroke-width="1.5" stroke-linecap="butt"/>
<rect x="313.6" y="460.4" width="13.3" height="142.2" fill="#000"/>
<line x1="320.25" y1="446.4" x2="320.25" y2="460.4" stroke="#000" stroke-width="1.3" stroke-linecap="butt"/>
<line x1="317.75" y1="446.4" x2="322.75" y2="446.4" stroke="#000" stroke-width="1.5" stroke-linecap="butt"/>
<rect x="347.2" y="514.9" width="13.1" height="87.7" fill="#000"/>
<line x1="353.75" y1="503.7" x2="353.75" y2="514.9" stroke="#000" stroke-width="1.3" stroke-linecap="butt"/>
<line x1="351.25" y1="503.7" x2="356.25" y2="503.7" stroke="#000" stroke-width="1.5" stroke-linecap="butt"/>
<rect x="380.1" y="549.6" width="13.2" height="53" fill="#000"/>
<line x1="386.7" y1="543.7" x2="386.7" y2="549.6" stroke="#000" stroke-width="1.3" stroke-linecap="butt"/>
<line x1="384.2" y1="543.7" x2="389.2" y2="543.7" stroke="#000" stroke-width="1.5" stroke-linecap="butt"/>
<path d="M221.3 443 L221.3 439.9 L309.8 439.9 L309.8 443" fill="none" stroke="#000" stroke-width="2.3" stroke-linejoin="round" stroke-linecap="round"/>
<path d="M228.2 477 L228.2 473.9 L287.2 473.9 L287.2 477" fill="none" stroke="#000" stroke-width="2.3" stroke-linejoin="round" stroke-linecap="round"/>
<path d="M323.2 443 L323.2 439.3 L354.5 439.3 L354.5 443" fill="none" stroke="#000" stroke-width="2.3" stroke-linejoin="round" stroke-linecap="round"/>
<path d="M358.1 477 L358.1 474.2 L387.8 474.2 L387.8 477" fill="none" stroke="#000" stroke-width="2.3" stroke-linejoin="round" stroke-linecap="round"/>
<path d="M261.3 448.6L263.98 450.15M261.3 448.6L261.3 451.7M261.3 448.6L258.62 450.15M261.3 448.6L258.62 447.05M261.3 448.6L261.3 445.5M261.3 448.6L263.98 447.05" stroke="#000" stroke-width="0.5" stroke-linecap="round" fill="none"/><circle cx="263.5" cy="449.87" r="0.72"/><circle cx="261.3" cy="451.14" r="0.72"/><circle cx="259.1" cy="449.87" r="0.72"/><circle cx="259.1" cy="447.33" r="0.72"/><circle cx="261.3" cy="446.06" r="0.72"/><circle cx="263.5" cy="447.33" r="0.72"/>
<path d="M274.2 448.6L276.88 450.15M274.2 448.6L274.2 451.7M274.2 448.6L271.52 450.15M274.2 448.6L271.52 447.05M274.2 448.6L274.2 445.5M274.2 448.6L276.88 447.05" stroke="#000" stroke-width="0.5" stroke-linecap="round" fill="none"/><circle cx="276.4" cy="449.87" r="0.72"/><circle cx="274.2" cy="451.14" r="0.72"/><circle cx="272" cy="449.87" r="0.72"/><circle cx="272" cy="447.33" r="0.72"/><circle cx="274.2" cy="446.06" r="0.72"/><circle cx="276.4" cy="447.33" r="0.72"/>
<path d="M332.1 448.9L334.78 450.45M332.1 448.9L332.1 452M332.1 448.9L329.42 450.45M332.1 448.9L329.42 447.35M332.1 448.9L332.1 445.8M332.1 448.9L334.78 447.35" stroke="#000" stroke-width="0.5" stroke-linecap="round" fill="none"/><circle cx="334.3" cy="450.17" r="0.72"/><circle cx="332.1" cy="451.44" r="0.72"/><circle cx="329.9" cy="450.17" r="0.72"/><circle cx="329.9" cy="447.63" r="0.72"/><circle cx="332.1" cy="446.36" r="0.72"/><circle cx="334.3" cy="447.63" r="0.72"/>
<path d="M345.2 448.9L347.88 450.45M345.2 448.9L345.2 452M345.2 448.9L342.52 450.45M345.2 448.9L342.52 447.35M345.2 448.9L345.2 445.8M345.2 448.9L347.88 447.35" stroke="#000" stroke-width="0.5" stroke-linecap="round" fill="none"/><circle cx="347.4" cy="450.17" r="0.72"/><circle cx="345.2" cy="451.44" r="0.72"/><circle cx="343" cy="450.17" r="0.72"/><circle cx="343" cy="447.63" r="0.72"/><circle cx="345.2" cy="446.36" r="0.72"/><circle cx="347.4" cy="447.63" r="0.72"/>
<path d="M366.2 484.6L368.88 486.15M366.2 484.6L366.2 487.7M366.2 484.6L363.52 486.15M366.2 484.6L363.52 483.05M366.2 484.6L366.2 481.5M366.2 484.6L368.88 483.05" stroke="#000" stroke-width="0.5" stroke-linecap="round" fill="none"/><circle cx="368.4" cy="485.87" r="0.72"/><circle cx="366.2" cy="487.14" r="0.72"/><circle cx="364" cy="485.87" r="0.72"/><circle cx="364" cy="483.33" r="0.72"/><circle cx="366.2" cy="482.06" r="0.72"/><circle cx="368.4" cy="483.33" r="0.72"/>
<path d="M379 484.6L381.68 486.15M379 484.6L379 487.7M379 484.6L376.32 486.15M379 484.6L376.32 483.05M379 484.6L379 481.5M379 484.6L381.68 483.05" stroke="#000" stroke-width="0.5" stroke-linecap="round" fill="none"/><circle cx="381.2" cy="485.87" r="0.72"/><circle cx="379" cy="487.14" r="0.72"/><circle cx="376.8" cy="485.87" r="0.72"/><circle cx="376.8" cy="483.33" r="0.72"/><circle cx="379" cy="482.06" r="0.72"/><circle cx="381.2" cy="483.33" r="0.72"/>
<text x="244.6" y="489.9" font-family='"Liberation Serif", serif' font-size="13.0" font-weight="normal" text-anchor="start">N.S.</text>
<text x="197.7" y="614.2" font-family='"Liberation Serif", serif' font-size="8.5" font-weight="bold" text-anchor="end">Sample:</text>
<text x="197.7" y="624" font-family='"Liberation Serif", serif' font-size="8.5" font-weight="bold" text-anchor="end">Fasudil (μM):</text>
<text x="219.7" y="614.2" font-family='"Liberation Serif", serif' font-size="8.5" font-weight="bold" text-anchor="middle">control</text>
<text x="219.7" y="624" font-family='"Liberation Serif", serif' font-size="8.5" font-weight="bold" text-anchor="middle">0</text>
<text x="254.3" y="614.2" font-family='"Liberation Serif", serif' font-size="8.5" font-weight="bold" text-anchor="middle">control</text>
<text x="254.3" y="624" font-family='"Liberation Serif", serif' font-size="8.5" font-weight="bold" text-anchor="middle">5</text>
<text x="289" y="614.2" font-family='"Liberation Serif", serif' font-size="8.5" font-weight="bold" text-anchor="middle">control</text>
<text x="289" y="624" font-family='"Liberation Serif", serif' font-size="8.5" font-weight="bold" text-anchor="middle">20</text>
<text x="321.9" y="614.2" font-family='"Liberation Serif", serif' font-size="8.5" font-weight="bold" text-anchor="middle">DR</text>
<text x="321.9" y="624" font-family='"Liberation Serif", serif' font-size="8.5" font-weight="bold" text-anchor="middle">0</text>
<text x="354.2" y="614.2" font-family='"Liberation Serif", serif' font-size="8.5" font-weight="bold" text-anchor="middle">DR</text>
<text x="354.2" y="624" font-family='"Liberation Serif", serif' font-size="8.5" font-weight="bold" text-anchor="middle">5</text>
<text x="386.7" y="614.2" font-family='"Liberation Serif", serif' font-size="8.5" font-weight="bold" text-anchor="middle">DR</text>
<text x="386.7" y="624" font-family='"Liberation Serif", serif' font-size="8.5" font-weight="bold" text-anchor="middle">20</text>
</svg>
</body></html>
